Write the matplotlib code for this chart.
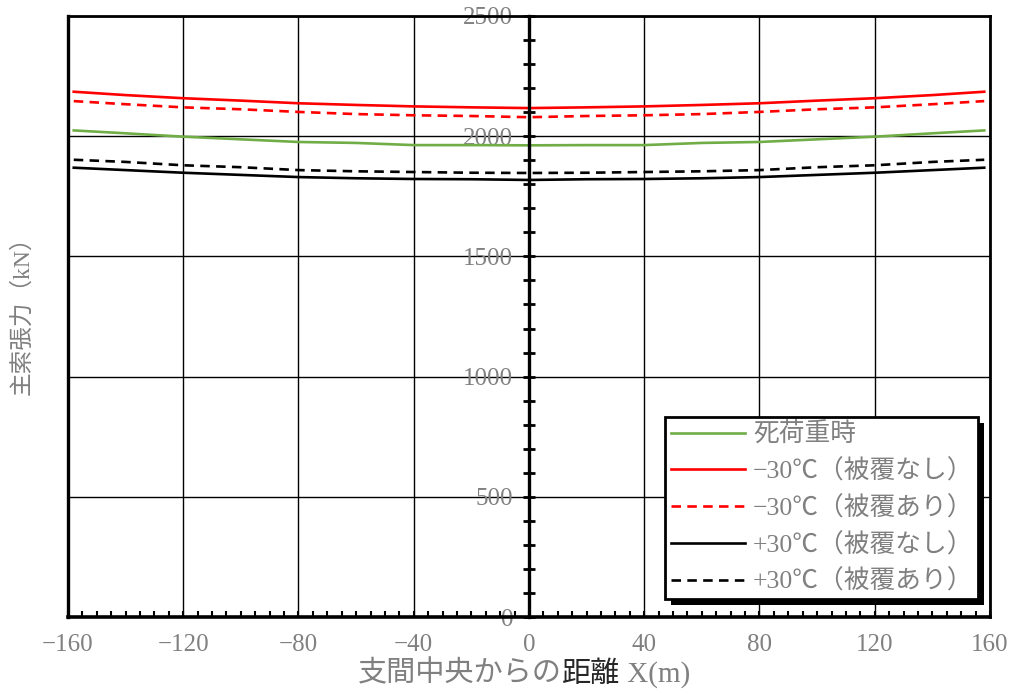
import matplotlib
matplotlib.use('Agg')
import matplotlib.pyplot as plt
from matplotlib.patches import Rectangle
from matplotlib.transforms import IdentityTransform

# distance from span centre (m)
x_pos = [-158, -140, -120, -100, -80, -60, -40, -20, 0, 20, 40, 60, 80, 100, 120, 140, 158]

# main cable tension (kN)
dead_load = [2024, 2012, 1998, 1987, 1976, 1972, 1963, 1963, 1962, 1963, 1963, 1972, 1976, 1987, 1998, 2012, 2024]
m30_bare = [2185, 2171, 2158, 2148, 2137, 2130, 2124, 2120, 2117, 2120, 2124, 2130, 2137, 2148, 2158, 2171, 2185]
m30_coated = [2146, 2133, 2120, 2112, 2101, 2092, 2087, 2084, 2079, 2084, 2087, 2092, 2101, 2112, 2120, 2133, 2146]
p30_bare = [1869, 1859, 1848, 1839, 1830, 1825, 1822, 1821, 1818, 1821, 1822, 1825, 1830, 1839, 1848, 1859, 1869]
p30_coated = [1902, 1893, 1879, 1871, 1859, 1854, 1851, 1848, 1847, 1848, 1851, 1854, 1859, 1871, 1879, 1893, 1902]

labels = ['死荷重時', '−30℃（被覆なし）', '−30℃（被覆あり）', '+30℃（被覆なし）', '+30℃（被覆あり）']

fam = ['Liberation Serif', 'Noto Sans CJK JP']
grey = '#808080'

fig = plt.figure(figsize=(10.12, 6.9), dpi=100)
ax = fig.add_axes([68 / 1012, 73 / 690, 922 / 1012, 601 / 690])

dash = (0, (3.6, 2.4))
ax.plot(x_pos, dead_load, color='#70AD47', lw=1.9, label=labels[0])
ax.plot(x_pos, m30_bare, color='#FF0000', lw=1.9, label=labels[1])
ax.plot(x_pos, m30_coated, color='#FF0000', lw=1.9, ls=dash, label=labels[2])
ax.plot(x_pos, p30_bare, color='black', lw=1.9, label=labels[3])
ax.plot(x_pos, p30_coated, color='black', lw=1.9, ls=dash, label=labels[4])

ax.set_xlim(-160, 160)
ax.set_ylim(0, 2500)

# grid
for gx in range(-120, 161, 40):
    if gx != 0:
        ax.axvline(gx, color='black', lw=1, zorder=0.5)
for gy in range(500, 2501, 500):
    ax.axhline(gy, color='black', lw=1, zorder=0.5)

# y axis sits at the span centre, outer frame drawn separately
ax.spines['left'].set_position(('data', 0))
ax.spines['left'].set_linewidth(2.4)
ax.spines['bottom'].set_linewidth(2.6)
ax.spines['top'].set_linewidth(2)
ax.spines['right'].set_linewidth(2)
ax.axvline(-160, color='black', lw=2.4, clip_on=False)

ax.set_xticks(range(-160, 161, 40))
ax.set_xticks(range(-160, 161, 5), minor=True)
ax.set_yticks(range(0, 2501, 500))
ax.set_yticks(range(0, 2501, 100), minor=True)
ax.tick_params(axis='x', which='both', direction='in', length=4, width=1.5,
               pad=12, labelsize=18, labelcolor=grey)
ax.tick_params(axis='y', which='both', direction='inout', length=9, width=2,
               pad=7, labelsize=18, labelcolor=grey)
for t in ax.get_xticklabels() + ax.get_yticklabels():
    t.set_family(fam)
ax.set_xticklabels([str(v).replace('-', '−') for v in range(-160, 161, 40)])

leg = ax.legend(loc='lower right', bbox_to_anchor=(0.9875, 0.03), prop={'family': fam, 'size': 18.5},
                frameon=True, fancybox=False, framealpha=1, edgecolor='black',
                handlelength=2.9, handletextpad=0.3, labelspacing=0.48,
                borderpad=0.2, borderaxespad=0)
leg.get_frame().set_linewidth(2)
for t in leg.get_texts():
    t.set_color(grey)

# black drop shadow of the legend box
fig.canvas.draw()
bb = leg.get_window_extent()
ax.add_patch(Rectangle((bb.x0 + 6, bb.y0 - 6), bb.width, bb.height, transform=IdentityTransform(),
                       facecolor='black', edgecolor='none', zorder=4.9, clip_on=False))

# axis titles
fig.text(22 / 1012, 1 - 310 / 690, '主索張力（kN）', rotation=90, ha='center', va='center',
         color=grey, fontsize=17, family=fam)
t1 = fig.text(358 / 1012, 1 - 674 / 690, '支間中央からの', ha='left', va='center',
              color=grey, fontsize=21, family=fam)
t2 = ax.annotate('距離', xy=(1, 0), xycoords=t1, ha='left', va='bottom',
                 color='#262626', fontsize=21, family=fam, annotation_clip=False)
ax.annotate(' X(m)', xy=(1, 0), xycoords=t2, ha='left', va='bottom',
            color=grey, fontsize=21, family=fam, annotation_clip=False)

fig.savefig('out.png', dpi=100)
